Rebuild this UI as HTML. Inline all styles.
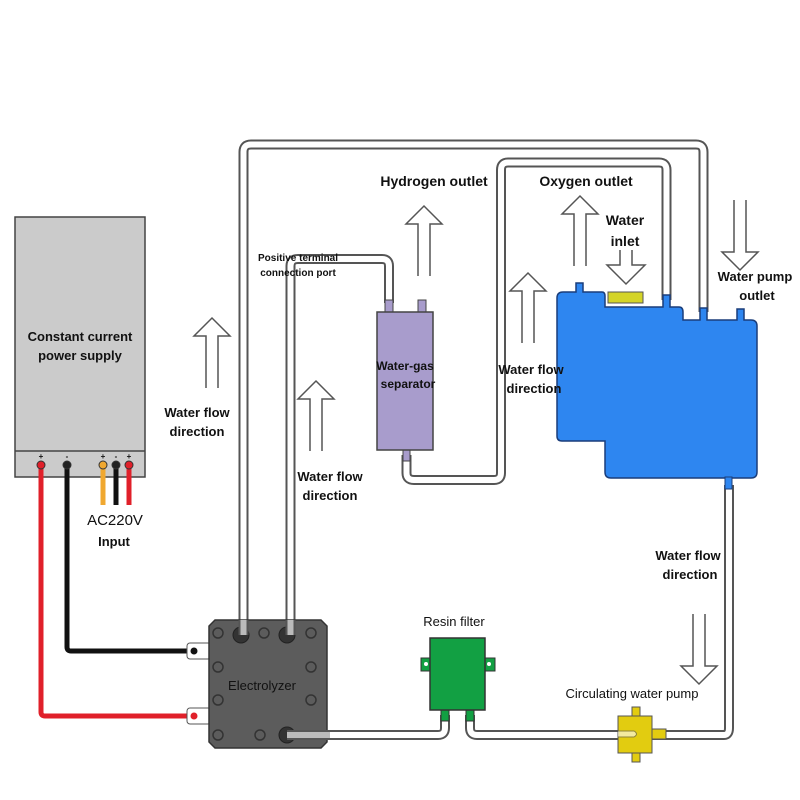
<!DOCTYPE html>
<html><head><meta charset="utf-8"><style>
html,body{margin:0;padding:0;background:#fff;}
svg{display:block;}
text{font-family:"Liberation Sans",sans-serif;font-weight:bold;fill:#111;}
</style></head><body>
<svg width="800" height="800" viewBox="0 0 800 800" xmlns="http://www.w3.org/2000/svg">
<defs>
<g id="up"><path d="M-6,70 L-6,18 L-18,18 L0,0 L18,18 L6,18 L6,70" fill="#fff" stroke="#555" stroke-width="1.5"/></g>
</defs>
<g fill="none" stroke-linejoin="round">
<g stroke="#555" stroke-width="10">
<path d="M243.5,635 L243.5,152 Q243.5,144.5 251,144.5 L696,144.5 Q703.5,144.5 703.5,152 L703.5,312"/>
<path d="M290.5,635 L290.5,266 Q290.5,259 298,259 L382,259 Q389,259 389,266 L389,303"/>
<path d="M406.5,455 L406.5,473 Q406.5,480 414,480 L494,480 Q501,480 501,473 L501,170 Q501,162.5 508,162.5 L659,162.5 Q666.5,162.5 666.5,170 L666.5,300"/>
<path d="M290,735 L438,735 Q445,735 445,728 L445,715"/>
<path d="M470,715 L470,728 Q470,735 477,735 L724,735 Q729,735 729,728 L729,485"/>
</g>
<g stroke="#fff" stroke-width="6">
<path d="M243.5,635 L243.5,152 Q243.5,144.5 251,144.5 L696,144.5 Q703.5,144.5 703.5,152 L703.5,312"/>
<path d="M290.5,635 L290.5,266 Q290.5,259 298,259 L382,259 Q389,259 389,266 L389,303"/>
<path d="M406.5,455 L406.5,473 Q406.5,480 414,480 L494,480 Q501,480 501,473 L501,170 Q501,162.5 508,162.5 L659,162.5 Q666.5,162.5 666.5,170 L666.5,300"/>
<path d="M290,735 L438,735 Q445,735 445,728 L445,715"/>
<path d="M470,715 L470,728 Q470,735 477,735 L724,735 Q729,735 729,728 L729,485"/>
</g>
</g>
<rect x="15" y="217" width="130" height="260" fill="#cbcbcb" stroke="#444" stroke-width="1.5"/>
<line x1="15" y1="451" x2="145" y2="451" stroke="#444" stroke-width="1.5"/>
<text x="80" y="341" font-size="13" text-anchor="middle">Constant current</text>
<text x="80" y="360" font-size="13" text-anchor="middle">power supply</text>
<g font-size="8" text-anchor="middle"><text x="41" y="459">+</text><text x="67" y="459">-</text><text x="103" y="459">+</text><text x="116" y="459">-</text><text x="129" y="459">+</text></g>
<g fill="none" stroke-width="5">
<path d="M41,465 L41,712 Q41,716 45,716 L192,716" stroke="#e0202a"/>
<path d="M67,465 L67,647 Q67,651 71,651 L192,651" stroke="#111"/>
<path d="M103,465 L103,505" stroke="#f0a830"/>
<path d="M116,465 L116,505" stroke="#111"/>
<path d="M129,465 L129,505" stroke="#e0202a"/>
</g>
<g stroke="#333" stroke-width="1"><circle cx="41" cy="465" r="4" fill="#e0202a"/><circle cx="67" cy="465" r="4" fill="#222"/><circle cx="103" cy="465" r="4" fill="#f0a830"/><circle cx="116" cy="465" r="4" fill="#222"/><circle cx="129" cy="465" r="4" fill="#e0202a"/></g>
<text x="115" y="525" font-size="15" text-anchor="middle" style="font-weight:normal" fill="#333">AC220V</text>
<text x="114" y="546" font-size="13" text-anchor="middle">Input</text>
<g fill="#fff" stroke="#555" stroke-width="1">
<rect x="187" y="643" width="24" height="16" rx="3"/>
<rect x="187" y="708" width="24" height="16" rx="3"/>
</g>
<circle cx="194" cy="651" r="3.5" fill="#111"/><circle cx="194" cy="716" r="3.5" fill="#e0202a"/>
<path d="M215,620 L321,620 L327,626 L327,742 L321,748 L215,748 L209,742 L209,626 Z" fill="#5c5c5c" stroke="#333" stroke-width="1.5"/>
<g fill="none" stroke="#333" stroke-width="1.5">
<circle cx="218" cy="633" r="5"/><circle cx="264" cy="633" r="5"/><circle cx="311" cy="633" r="5"/>
<circle cx="218" cy="667" r="5"/><circle cx="311" cy="667" r="5"/>
<circle cx="218" cy="700" r="5"/><circle cx="311" cy="700" r="5"/>
<circle cx="218" cy="735" r="5"/><circle cx="260" cy="735" r="5"/>
</g>
<g fill="#333" stroke="#222"><circle cx="241" cy="635" r="8"/><circle cx="287" cy="635" r="8"/><circle cx="287" cy="735" r="8"/></g>
<text x="262" y="690" font-size="13" text-anchor="middle" style="font-weight:normal" fill="#111">Electrolyzer</text>
<g fill="none"><path d="M243.5,620 L243.5,635" stroke="#555" stroke-width="10"/><path d="M243.5,620 L243.5,635" stroke="#fff" stroke-width="6" opacity=".6"/>
<path d="M290.5,620 L290.5,635" stroke="#555" stroke-width="10"/><path d="M290.5,620 L290.5,635" stroke="#fff" stroke-width="6" opacity=".6"/>
<path d="M287,735 L330,735" stroke="#555" stroke-width="10"/><path d="M287,735 L330,735" stroke="#fff" stroke-width="6" opacity=".6"/></g>
<rect x="385" y="300" width="8" height="13" fill="#a89ccc" stroke="#444"/>
<rect x="418" y="300" width="8" height="13" fill="#a89ccc" stroke="#444"/>
<rect x="403" y="449" width="7" height="12" fill="#a89ccc" stroke="#444"/>
<rect x="377" y="312" width="56" height="138" fill="#a89ccc" stroke="#444" stroke-width="1.5"/>
<text x="405" y="370" font-size="12" text-anchor="middle">Water-gas</text>
<text x="408" y="388" font-size="12" text-anchor="middle">separator</text>
<path d="M557,298 Q557,292 563,292 L576,292 L576,283 L583,283 L583,292 L602,292 Q605,292 605,296 L605,307 L663,307 L663,295 L670,295 L670,307 L679,307 Q683,307 683,312 L683,320 L700,320 L700,308 L707,308 L707,320 L737,320 L737,309 L744,309 L744,320 L751,320 Q757,320 757,326 L757,472 Q757,478 751,478 L611,478 Q605,478 605,472 L605,441 L562,441 Q557,441 557,436 Z" fill="#2e86f0" stroke="#1a3d7a" stroke-width="1.5"/>
<rect x="725" y="477" width="7" height="12" fill="#2e86f0" stroke="#1a3d7a"/>
<rect x="608" y="292" width="35" height="11" fill="#d4d428" stroke="#555"/>
<rect x="441" y="708" width="8" height="13" fill="#12a043" stroke="#333"/>
<rect x="466" y="708" width="8" height="13" fill="#12a043" stroke="#333"/>
<rect x="421" y="658" width="12" height="13" fill="#12a043" stroke="#333"/>
<rect x="483" y="658" width="12" height="13" fill="#12a043" stroke="#333"/>
<circle cx="426" cy="664" r="2" fill="#fff"/><circle cx="489" cy="664" r="2" fill="#fff"/>
<rect x="430" y="638" width="55" height="72" fill="#12a043" stroke="#333" stroke-width="1.5"/>
<text x="454" y="626" font-size="13" text-anchor="middle" style="font-weight:normal">Resin filter</text>
<rect x="632" y="707" width="8" height="10" fill="#e2cc10" stroke="#555"/>
<rect x="632" y="752" width="8" height="10" fill="#e2cc10" stroke="#555"/>
<rect x="650" y="729" width="16" height="10" fill="#e2cc10" stroke="#555"/>
<rect x="618" y="716" width="34" height="37" fill="#e2cc10" stroke="#555"/>
<path d="M618,731 L634,731 Q639,734 634,737 L618,737" fill="#fff" stroke="#555" opacity=".6"/>
<text x="632" y="698" font-size="13" text-anchor="middle" style="font-weight:normal">Circulating water pump</text>
<use href="#up" x="212" y="318"/>
<use href="#up" x="316" y="381"/>
<use href="#up" x="424" y="206"/>
<use href="#up" x="528" y="273"/>
<use href="#up" x="580" y="196"/>
<path d="M620,250 L620,265 L607,265 L626,284 L645,265 L632,265 L632,250" fill="#fff" stroke="#555" stroke-width="1.5"/>
<use href="#up" transform="translate(740,270) rotate(180)"/>
<use href="#up" transform="translate(699,684) rotate(180)"/>
<g font-size="13" text-anchor="middle">
<text x="197" y="417">Water flow</text><text x="197" y="436">direction</text>
<text x="330" y="481">Water flow</text><text x="330" y="500">direction</text>
<text x="531" y="374">Water flow</text><text x="534" y="393">direction</text>
<text x="688" y="560">Water flow</text><text x="690" y="579">direction</text>
<text x="755" y="281">Water pump</text><text x="757" y="300">outlet</text>
<text x="298" y="261" font-size="10">Positive terminal</text>
<text x="298" y="276" font-size="10">connection port</text>
</g>
<text x="434" y="186" font-size="14" text-anchor="middle">Hydrogen outlet</text>
<text x="586" y="186" font-size="14" text-anchor="middle">Oxygen outlet</text>
<text x="625" y="225" font-size="14" text-anchor="middle">Water</text>
<text x="625" y="246" font-size="14" text-anchor="middle">inlet</text>
</svg>
</body></html>
